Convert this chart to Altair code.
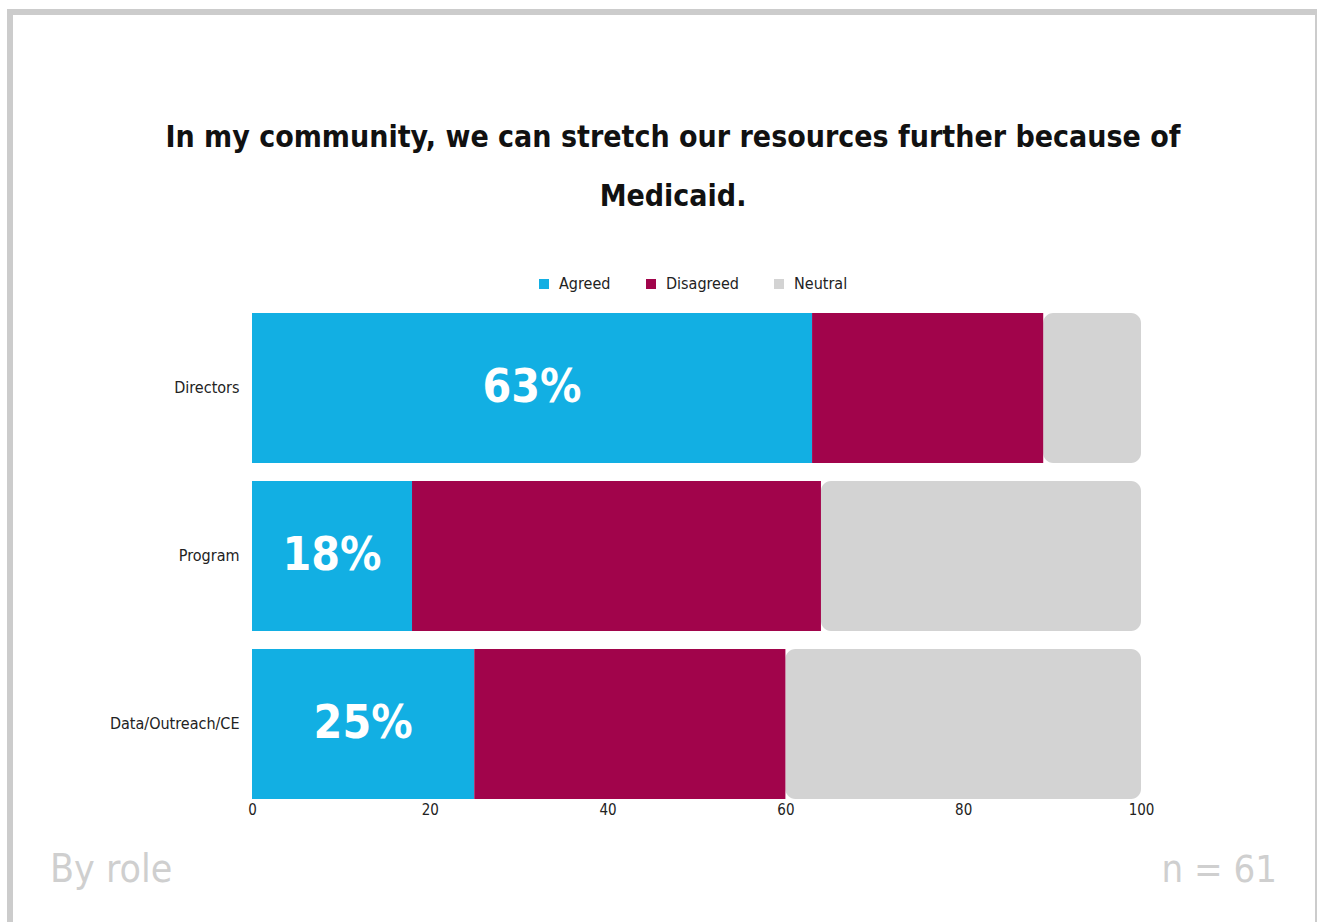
import altair as alt
import pandas as pd

roles = ["Directors", "Program", "Data/Outreach/CE"]
agreed = [63, 18, 25]
disagreed = [26, 46, 35]
neutral = [11, 36, 40]
categories = ["Agreed", "Disagreed", "Neutral"]
colors = ["#12afe3", "#a1044b", "#d3d3d3"]
x_ticks = [0, 20, 40, 60, 80, 100]
title_lines = ["In my community, we can stretch our resources further because of", "Medicaid."]

FONT = "'Liberation Sans Narrow', 'DejaVu Sans Condensed', 'Roboto', sans-serif"

rows = []
for r, a, d, n in zip(roles, agreed, disagreed, neutral):
    rows.append({"role": r, "cat": "Agreed", "start": 0, "end": a, "value": a})
    rows.append({"role": r, "cat": "Disagreed", "start": a, "end": a + d, "value": d})
    rows.append({"role": r, "cat": "Neutral", "start": a + d, "end": a + d + n, "value": n})
df = pd.DataFrame(rows)
df["mid"] = (df["start"] + df["end"]) / 2
df["label"] = df["value"].astype(str) + "%"

color = alt.Color(
    "cat:N",
    scale=alt.Scale(domain=categories, range=colors),
    legend=alt.Legend(
        title=None, orient="none", direction="horizontal",
        legendX=284, legendY=-37, symbolType="square", symbolSize=100,
        labelFont=FONT, labelFontSize=16, labelColor="#222222",
        columnPadding=32, labelOffset=7, symbolStrokeWidth=0,
    ),
)
y = alt.Y(
    "role:N", sort=roles, title=None,
    scale=alt.Scale(paddingInner=0.107, paddingOuter=0),
    axis=alt.Axis(labelFont=FONT, labelFontSize=16, labelColor="#222222",
                  domain=False, ticks=False, labelPadding=13),
)
x = alt.X(
    "start:Q", title=None,
    scale=alt.Scale(domain=[0, 100], nice=False),
    axis=alt.Axis(values=x_ticks, labelFont=FONT, labelFontSize=15,
                  labelColor="#222222", domain=False, ticks=False, grid=False,
                  labelPadding=3, labelFlush=False),
)

base = alt.Chart(df)

neutral_bars = base.transform_filter(alt.datum.cat == "Neutral").mark_bar(
    cornerRadiusEnd=10
).encode(y=y, x=x, x2="end:Q", color=color)

main_bars = base.transform_filter(alt.datum.cat != "Neutral").mark_bar(
    cornerRadius=0
).encode(y=y, x=x, x2="end:Q", color=color)

labels = base.transform_filter(alt.datum.cat == "Agreed").mark_text(
    font=FONT, fontSize=46, fontWeight="bold", color="white"
).encode(y=y, x=alt.X("mid:Q"), text="label:N")

one = pd.DataFrame({"k": [0]})

frame = alt.Chart(one).mark_rect(
    fill=None, stroke="#cccccc", strokeWidth=6
).encode(x=alt.value(-242), x2=alt.value(1066), y=alt.value(-301), y2=alt.value(617))

title = alt.Chart(one).mark_text(
    font=FONT, fontSize=30, fontWeight="bold", color="#111111",
    align="center", baseline="alphabetic", lineHeight=59,
).encode(text=alt.value(title_lines), x=alt.value(421), y=alt.value(-166))

foot_left = alt.Chart(one).mark_text(
    font=FONT, fontSize=39, color="#cfcfcf", align="left", baseline="alphabetic"
).encode(text=alt.value("By role"), x=alt.value(-202), y=alt.value(569))
foot_right = alt.Chart(one).mark_text(
    font=FONT, fontSize=38, color="#cfcfcf", align="right", baseline="alphabetic"
).encode(text=alt.value("n = 61"), x=alt.value(1025), y=alt.value(569))

chart = alt.layer(frame, neutral_bars, main_bars, labels, title, foot_left, foot_right).properties(
    width=889,
    height=486,
    background="white",
    autosize=alt.AutoSizeParams(type="none"),
    padding={"left": 252, "top": 313, "right": 176, "bottom": 123},
).configure_view(stroke=None)

chart.save("out.html", embed_options={"renderer": "svg", "actions": False})
